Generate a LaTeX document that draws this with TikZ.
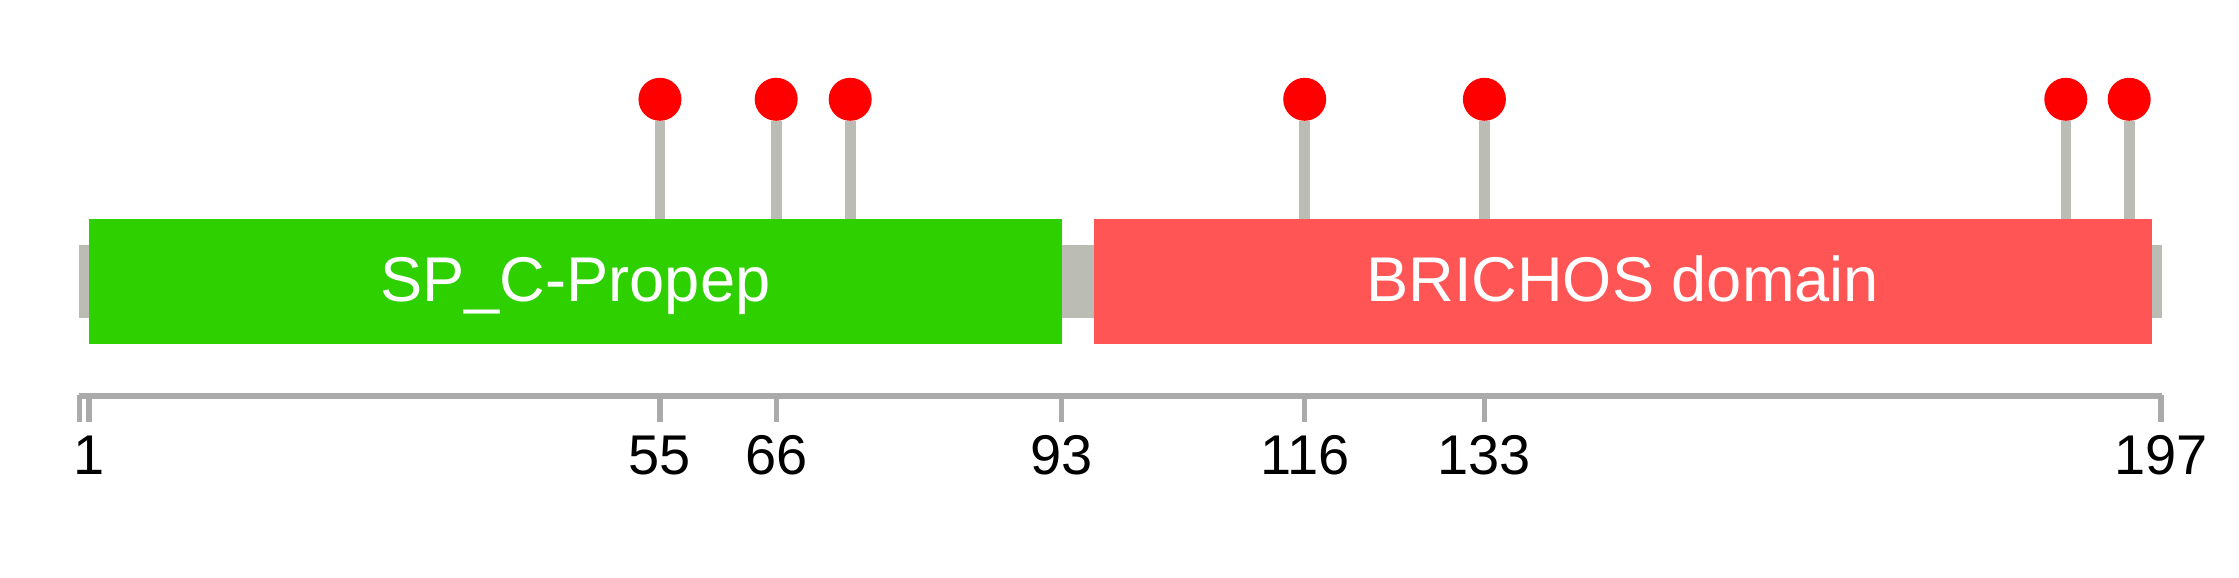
\documentclass[tikz,border=0pt]{standalone}
\usepackage{fontspec}
\setmainfont{Liberation Sans}
\definecolor{domgreen}{RGB}{46,208,0}
\definecolor{domred}{RGB}{255,85,85}
\definecolor{pinred}{RGB}{255,0,0}
\definecolor{bbgrey}{RGB}{187,189,181}
\definecolor{axgrey}{RGB}{170,170,170}
\begin{document}
\begin{tikzpicture}[x=0.5pt,y=-0.5pt,
  dombox/.style={draw=none,inner sep=0pt,minimum height=62.5pt,text=white,
    font=\fontsize{31.6}{34}\selectfont,text height=19.9pt,text depth=0pt},
  pinhead/.style={circle,fill=pinred,draw=none,inner sep=0pt,minimum size=21.5pt},
  stem/.style={draw=bbgrey,line width=5.3pt},
  axisline/.style={draw=axgrey,line width=2.7pt},
  tickmark/.style={draw=axgrey,line width=2.7pt},
  ticklabel/.style={anchor=base,inner sep=0pt,font=\fontsize{28}{31}\selectfont}]
\useasboundingbox (0,0) rectangle (2239,578);
% backbone
\fill[bbgrey] (78.6,245) rectangle (2162,318.3);
% pin heads
\node[pinhead] (p55) at (659.95,99.3) {};
\node[pinhead] (p66) at (776.2,99.3) {};
\node[pinhead] (p73) at (850.2,99.3) {};
\node[pinhead] (p116) at (1304.7,99.3) {};
\node[pinhead] (p133) at (1484.4,99.3) {};
\node[pinhead] (p188) at (2065.8,99.3) {};
\node[pinhead] (p194) at (2129.2,99.3) {};
% stems
\foreach \n/\x in {p55/659.95,p66/776.2,p73/850.2,p116/1304.7,p133/1484.4,p188/2065.8,p194/2129.2}
  \draw[stem] (\n) -- (\x,221);
% domains
\node[dombox,fill=domgreen,minimum width=486.2pt] (spc) at (575.4,281.8) {SP\_C-Propep};
\node[dombox,fill=domred,minimum width=528.95pt] (brichos) at (1622.75,281.8) {BRICHOS domain};
% axis
\coordinate (axstart) at (78.6,396);
\coordinate (axend) at (2161.8,396);
\draw[axisline] (axstart) -- (axend);
\draw[tickmark] (79.5,394.7) -- (79.5,422);
\foreach \x/\t in {89.17/1,659.95/55,776.2/66,1061.6/93,1304.7/116,1484.4/133,2160.9/197}{
  \draw[tickmark] (\x,394.7) -- (\x,422);
  \node[ticklabel] (l\t) at (\x,474.5) {\t};
}
\end{tikzpicture}
\end{document}
